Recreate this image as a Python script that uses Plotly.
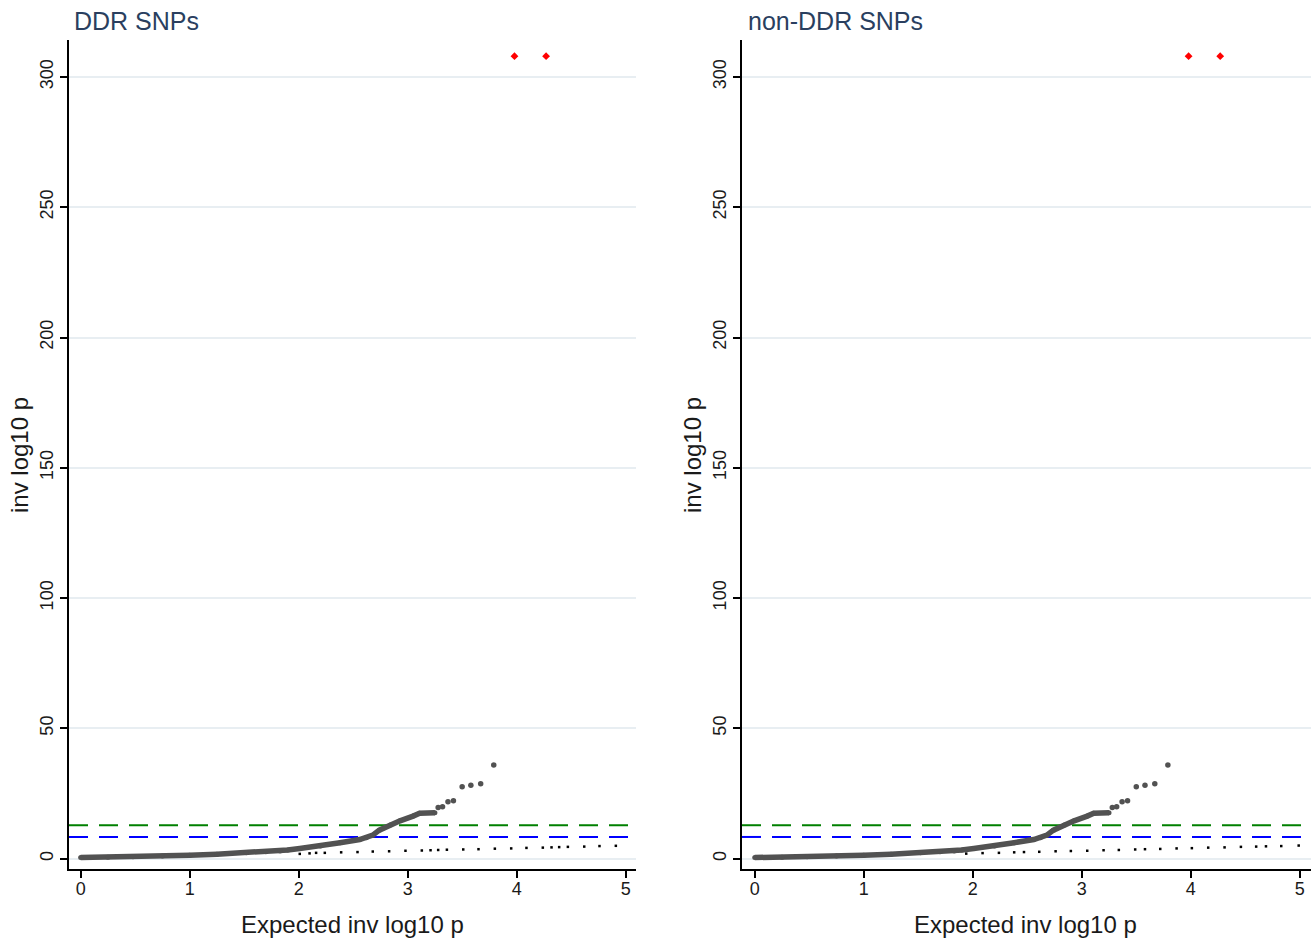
import plotly.graph_objects as go

# ---------------- data ----------------
# dense part of the observed QQ curve (expected, observed)
band_x = [0.0, 0.25, 0.48, 0.75, 1.0, 1.25, 1.52, 1.70, 1.83, 1.90, 2.01, 2.20,
          2.38, 2.56, 2.62, 2.68, 2.74, 2.84, 2.93, 3.05, 3.11, 3.25]
band_y = [0.4, 0.5, 0.7, 1.0, 1.3, 1.7, 2.2, 2.6, 2.9, 3.3, 3.9, 4.8,
          6.1, 7.3, 8.0, 9.0, 10.9, 12.9, 14.5, 16.3, 17.4, 17.6]
# sparse tail of the observed curve
tail_x = [3.28, 3.32, 3.37, 3.42, 3.50, 3.58, 3.67, 3.79]
tail_y = [19.6, 19.9, 21.8, 22.2, 27.6, 28.1, 28.7, 35.9]
# capped (p = 0) hits
red_x = [3.98, 4.27]
red_y = [308.0, 308.0]
# expected (null) points visible beyond the band
ddr_null_x = [2.01, 2.10, 2.16, 2.24, 2.39, 2.54, 2.68, 2.83, 2.98, 3.13, 3.21, 3.28,
              3.36, 3.51, 3.65, 3.80, 3.95, 4.09, 4.24, 4.32, 4.39, 4.47, 4.62, 4.76, 4.91]
ddr_null_y = [1.8, 2.0, 2.2, 2.2, 2.4, 2.5, 2.7, 2.8, 3.0, 3.1, 3.2, 3.3,
              3.4, 3.5, 3.6, 3.8, 3.9, 4.1, 4.2, 4.3, 4.4, 4.5, 4.6, 4.8, 4.9]
non_null_x = [1.94, 2.09, 2.24, 2.38, 2.47, 2.61, 2.76, 2.90, 3.05, 3.20, 3.34, 3.49,
              3.58, 3.72, 3.87, 4.01, 4.16, 4.31, 4.46, 4.60, 4.69, 4.83, 4.99]
non_null_y = [1.9, 2.1, 2.2, 2.4, 2.5, 2.6, 2.8, 2.9, 3.0, 3.2, 3.3, 3.5,
              3.6, 3.7, 3.9, 4.0, 4.2, 4.3, 4.5, 4.6, 4.7, 4.8, 5.0]
green_threshold = 12.8
blue_threshold = 8.3

panel_titles = ["DDR SNPs", "non-DDR SNPs"]
x_ticks = [0, 1, 2, 3, 4, 5]
y_ticks = [0, 50, 100, 150, 200, 250, 300]
x_title = "Expected inv log10 p"
y_title = "inv log10 p"

W, H = 1315, 938
FONT = "Liberation Sans, Arial, sans-serif"
GRAY = "#525252"
TXT = "#1a1a1a"

fig = go.Figure()

panels = [
    ("x", "y", ddr_null_x, ddr_null_y),
    ("x2", "y2", non_null_x, non_null_y),
]
shapes = []
for xa, ya, nx, ny in panels:
    fig.add_trace(go.Scatter(x=band_x, y=band_y, xaxis=xa, yaxis=ya, mode="lines+markers",
                             line=dict(color=GRAY, width=5.5),
                             marker=dict(color=GRAY, size=5), showlegend=False))
    fig.add_trace(go.Scatter(x=tail_x, y=tail_y, xaxis=xa, yaxis=ya, mode="markers",
                             marker=dict(color=GRAY, size=5.5), showlegend=False))
    fig.add_trace(go.Scatter(x=nx, y=ny, xaxis=xa, yaxis=ya, mode="markers",
                             marker=dict(color="black", size=2.5, symbol="square"),
                             showlegend=False))
    fig.add_trace(go.Scatter(x=red_x, y=red_y, xaxis=xa, yaxis=ya, mode="markers",
                             marker=dict(color="#ff0000", size=6, symbol="diamond"),
                             showlegend=False))
    for thr, col in [(green_threshold, "#008000"), (blue_threshold, "#0000ff")]:
        shapes.append(dict(type="line", xref=f"{xa} domain", yref=ya, x0=0, x1=1,
                           y0=thr, y1=thr, layer="below",
                           line=dict(color=col, width=2, dash="19px,11px")))

def px_x(p):
    return p / W

def px_y(p):
    return 1 - p / H

ydom = [px_y(869), px_y(40)]
axis_common = dict(showline=True, linecolor="black", linewidth=2, ticks="outside",
                   ticklen=7, tickwidth=2, tickcolor="black", zeroline=False)

fig.update_layout(
    width=W, height=H, margin=dict(l=0, r=0, t=0, b=0, autoexpand=False),
    plot_bgcolor="white", paper_bgcolor="white",
    font=dict(family=FONT, size=18, color=TXT),
    shapes=shapes,
    xaxis=dict(domain=[px_x(69), px_x(636)], range=[-0.107, 5.095], tickvals=x_ticks,
               showgrid=False, anchor="y", **axis_common),
    yaxis=dict(domain=ydom, range=[-4.0, 314.2], tickvals=y_ticks, tickangle=-90,
               showgrid=True, gridcolor="#e8eef2", gridwidth=1.5, anchor="x", **axis_common),
    xaxis2=dict(domain=[px_x(742), px_x(1311)], range=[-0.117, 5.103], tickvals=x_ticks,
                showgrid=False, anchor="y2", **axis_common),
    yaxis2=dict(domain=ydom, range=[-4.0, 314.2], tickvals=y_ticks, tickangle=-90,
                showgrid=True, gridcolor="#e8eef2", gridwidth=1.5, anchor="x2", **axis_common),
)
fig.update_xaxes(tickfont=dict(family=FONT, size=18, color=TXT), automargin=False,
                 ticklabelstandoff=-5)
fig.update_yaxes(tickfont=dict(family=FONT, size=18, color=TXT), automargin=False)

ann = []
for title, tx, xc in [(panel_titles[0], 72, 352), (panel_titles[1], 746, 1025)]:
    ann.append(dict(text=title, x=px_x(tx), y=px_y(21), xref="paper", yref="paper",
                    xanchor="left", yanchor="middle", showarrow=False,
                    font=dict(family=FONT, size=25, color="#2a3f5f")))
    ann.append(dict(text=x_title, x=px_x(xc), y=px_y(924), xref="paper", yref="paper",
                    xanchor="center", yanchor="middle", showarrow=False,
                    font=dict(family=FONT, size=24, color=TXT)))
for xc in [20, 693]:
    ann.append(dict(text=y_title, x=px_x(xc), y=px_y(455), xref="paper", yref="paper",
                    xanchor="center", yanchor="middle", showarrow=False, textangle=-90,
                    font=dict(family=FONT, size=24, color=TXT)))
fig.update_layout(annotations=ann)

fig.write_html("out.html")
